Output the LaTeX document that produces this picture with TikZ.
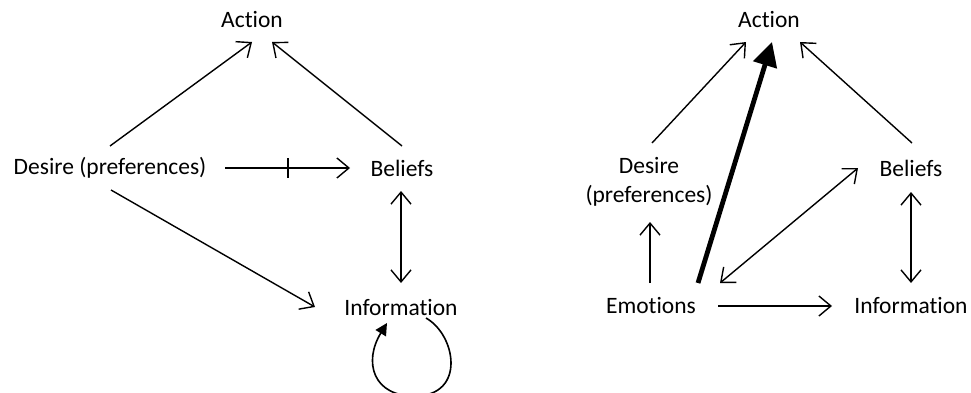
\documentclass[tikz,border=0pt]{standalone}
\usepackage{fontspec}
\setmainfont{Carlito}[Ligatures=NoCommon]
\usetikzlibrary{arrows.meta,calc}
\begin{document}
\begin{tikzpicture}[x=1pt,y=-1pt,
  lbl/.style={inner sep=0pt,font=\fontsize{23.5}{29}\selectfont,align=center},
  barb/.tip={Straight Barb[length=12pt,width=20pt,line width=1.4pt]},
  conn/.style={line width=1.4pt,-barb},
  biconn/.style={line width=1.4pt,barb-barb},
  thickconn/.style={line width=4.8pt,-{Triangle[length=24pt,width=24pt]}},
  loopconn/.style={line width=1.6pt,-{Triangle[length=12pt,width=12pt]}}]
\useasboundingbox (0,0) rectangle (971,393);
% left diagram
\node[lbl] (actL) at (252,20) {Action};
\node[lbl] (desL) at (110,168) {Desire (preferences)};
\node[lbl] (belL) at (402,168) {Beliefs};
\node[lbl] (infL) at (401,307) {Information};
\draw[conn] ($(desL)+(0,-22)$) -- ($(actL)+(0,22)$);
\draw[conn] ($(belL)+(0,-22)$) -- ($(actL)+(20,22)$);
\draw[conn] ($(desL)+(115,0)$) -- ($(belL)+(-52,0)$);
\draw[line width=1.4pt] ($(desL)+(178,-10)$) -- ($(desL)+(178,10)$);
\draw[biconn] ($(belL)+(-1,23)$) -- ($(infL)+(0,-24)$);
\draw[conn] ($(desL)+(1,22)$) -- ($(infL)+(-86,0)$);
\draw[loopconn] ($(infL)+(25,11)$) .. controls ($(infL)+(55,28)$) and ($(infL)+(65,88)$) .. ($(infL)+(15,89)$)
  .. controls ($(infL)+(-28,90)$) and ($(infL)+(-38,55)$) .. ($(infL)+(-14,16)$);
% right diagram
\node[lbl] (actR) at (769,20) {Action};
\node[lbl] (desR) at (649,182) {Desire\\(preferences)};
\node[lbl] (belR) at (911,168) {Beliefs};
\node[lbl] (emoR) at (651,305) {Emotions};
\node[lbl] (infR) at (911,305) {Information};
\draw[conn] ($(desR)+(3,-39)$) -- ($(actR)+(-23,22)$);
\draw[thickconn] ($(emoR)+(47,-22)$) -- ($(actR)+(3,22)$);
\draw[conn] ($(belR)+(1,-25)$) -- ($(actR)+(31,22)$);
\draw[conn] ($(emoR)+(-1,-22)$) -- ($(desR)+(1,40)$);
\draw[biconn] ($(emoR)+(69,-22)$) -- ($(belR)+(-53,0)$);
\draw[biconn] ($(belR)+(0,24)$) -- ($(infR)+(0,-22)$);
\draw[conn] ($(emoR)+(67,1)$) -- ($(infR)+(-79,1)$);
\end{tikzpicture}
\end{document}
